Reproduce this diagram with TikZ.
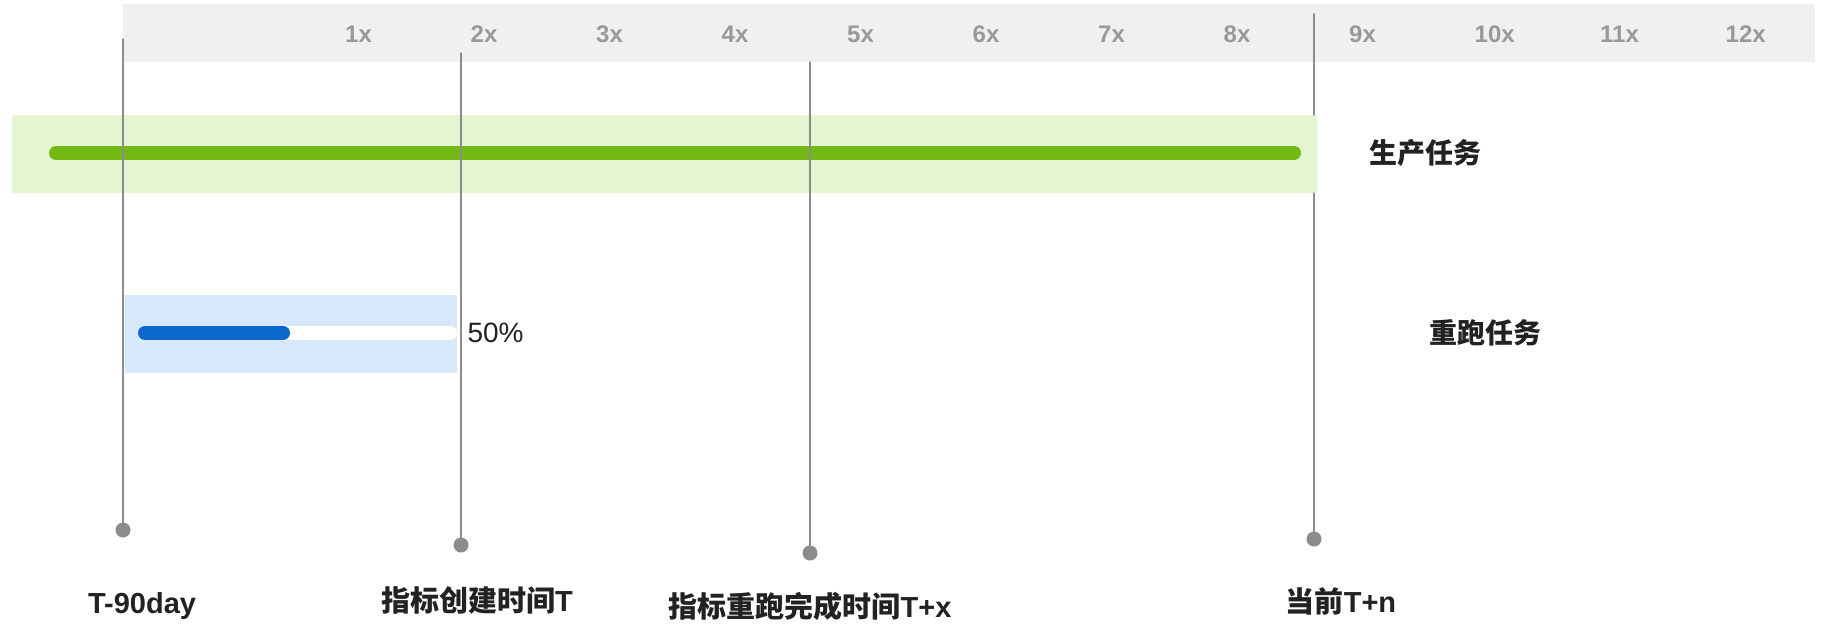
\documentclass[tikz,border=0pt]{standalone}
\usepackage{fontspec}
\setmainfont{Liberation Sans}
\newfontfamily\cjk{Noto Sans CJK SC}
\definecolor{headgray}{HTML}{F0F0F0}
\definecolor{ticktext}{HTML}{999999}
\definecolor{vline}{HTML}{8C8C8C}
\definecolor{greenband}{HTML}{E4F5D1}
\definecolor{greenbar}{HTML}{74B816}
\definecolor{blueband}{HTML}{D7E8FA}
\definecolor{bluebar}{HTML}{0B67CC}
\definecolor{darktext}{HTML}{222222}
\begin{document}
\begin{tikzpicture}[x=1pt, y=-1pt, line join=round, line cap=round,
  ticklabel/.style={anchor=base west, inner sep=0pt, text=ticktext, font=\fontsize{24}{24}\selectfont\bfseries},
  tasklabel/.style={text=darktext, font=\fontsize{28}{28}\selectfont\cjk\bfseries},
  timelabel/.style={text=darktext, font=\fontsize{29}{29}\selectfont\bfseries},
  marker/.style={draw=vline, line width=1.5pt}]

	\useasboundingbox (0,0) rectangle (1833,642);

	% Định nghĩa các tọa độ của các đường mốc thời gian
	\coordinate (A1) at (123, 39);
	\coordinate (A2) at (123, 530);
	\coordinate (B1) at (461, 53);
	\coordinate (B2) at (461, 545);
	\coordinate (C1) at (810, 62);
	\coordinate (C2) at (810, 553);
	\coordinate (D1) at (1314, 14);
	\coordinate (D2) at (1314, 539);
	\coordinate (Dg) at (1314, 115);
	\coordinate (Dh) at (1314, 193);

	% Vẽ thanh tiêu đề với các nhãn 1x ... 12x
	\fill[headgray] (123,4) rectangle (1815,62);
	\foreach \i in {1,...,12} {
		\node[ticklabel] (tick\i) at ({345+125.5*(\i-1)}, 43) {\i x};
	}

	% Vẽ dải màu xanh lá của nhiệm vụ sản xuất
	\fill[greenband] (12,115) rectangle (1317,193);
	\draw[greenbar, line width=14pt] (56,153) -- (1294,153);

	% Vẽ dải màu xanh dương của nhiệm vụ chạy lại
	\fill[blueband] (125,295) rectangle (457,373);
	\draw[white, line width=14pt] (145,333) -- (450,333);
	\draw[bluebar, line width=14pt] (145,333) -- (283,333);

	% Vẽ các đường thẳng đứng
	\draw[marker] (A1) -- (A2);
	\draw[marker] (B1) -- (B2);
	\draw[marker] (C1) -- (C2);
	\draw[marker] (D1) -- (Dg);
	\draw[marker] (Dh) -- (D2);

	% Vẽ các dấu chấm tròn ở cuối
	\foreach \point in {A2, B2, C2, D2} {
		\fill[vline] (\point) circle (7.5);
	}

	% Thêm nhãn
	\node[anchor=west, text=darktext, font=\fontsize{28}{28}\selectfont] (pct) at (464,333) {50\%};
	\node[tasklabel] (prod) at (1425,153) {生产任务};
	\node[tasklabel] (rerun) at (1485,333) {重跑任务};

	\node[timelabel] (t90) at (142,606) {T-90day};
	\node[timelabel] (tcreate) at (477,600) {{\cjk 指标创建时间}T};
	\node[timelabel] (tdone) at (810,606) {{\cjk 指标重跑完成时间}T+x};
	\node[timelabel] (tnow) at (1341,601) {{\cjk 当前}T+n};

\end{tikzpicture}
\end{document}
